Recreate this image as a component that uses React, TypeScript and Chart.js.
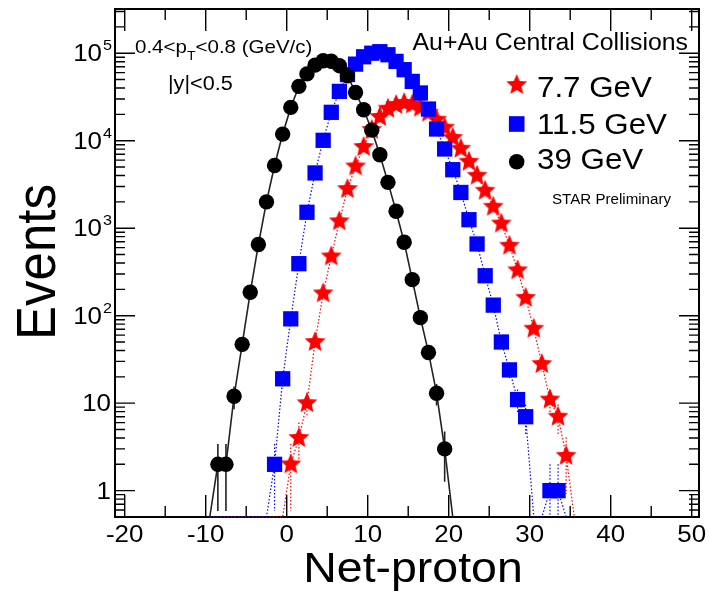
import { useEffect, useRef } from 'react';
import { Chart, registerables } from 'chart.js';

Chart.register(...registerables);

// ---- data (bin centres of the net-proton histogram) ----
const NET_PROTON = [
  -9.5, -8.5, -7.5, -6.5, -5.5, -4.5, -3.5, -2.5, -1.5, -0.5,
  0.5, 1.5, 2.5, 3.5, 4.5, 5.5, 6.5, 7.5, 8.5, 9.5,
  10.5, 11.5, 12.5, 13.5, 14.5, 15.5, 16.5, 17.5, 18.5, 19.5,
  20.5, 21.5, 22.5, 23.5, 24.5, 25.5, 26.5, 27.5, 28.5, 29.5,
  30.5, 31.5, 32.5, 33.5, 34.5, 35.5,
];

// 7.7 GeV (red stars)
const EVENTS_7_7: (number | null)[] = [
  0, 0, 0, 0, 0, 0, 0, 0, 0, 0,
  2, 4, 10, 50, 180, 476, 1200, 2800, 5080, 8470,
  13300, 18700, 23200, 25600, 27000, 26000, 23800, 20900, 17400, 14100,
  10800, 8100, 5750, 3980, 2680, 1760, 1130, 630, 330, 160,
  71, 28, 11, 7, 2.5, 0,
];

// 11.5 GeV (blue squares)
const EVENTS_11_5: (number | null)[] = [
  0, 0, 0, 0, 0, 0, 0, 0, 2, 19,
  92, 393, 1520, 4280, 10100, 21100, 36600, 57000, 75000, 91000,
  100000, 104000, 96000, 80600, 64800, 47600, 35100, 23000, 13600, 8040,
  4660, 2560, 1250, 660, 286, 132, 50, 24, 11, 7,
  0, 0, 1, 1, 0, null,
];

// 39 GeV (black circles)
const EVENTS_39: (number | null)[] = [
  0, 2, 2, 12, 47, 185, 650, 2000, 5200, 11900,
  24000, 41800, 58000, 73000, 82000, 81000, 72000, 55000, 35600, 22600,
  13200, 6900, 3340, 1560, 690, 258, 95, 38, 13, 3,
  0, null, null, null, null, null, null, null, null, null,
  null, null, null, null, null, null,
];

const SERIES_LABELS = ['7.7 GeV', '11.5 GeV', '39 GeV'];
const SERIES_COLORS = ['#ff0000', '#0000ff', '#000000'];

const X_MAJOR_TICKS = [-20, -10, 0, 10, 20, 30, 40, 50];
const X_MINOR_TICKS = [-15, -5, 5, 15, 25, 35, 45];
const X_TICK_LABELS = ['-20', '-10', '0', '10', '20', '30', '40', '50'];
const Y_DECADES = [1, 10, 100, 1000, 10000, 100000];
const Y_TICK_BASES = ['1', '10', '10', '10', '10', '10'];
const Y_TICK_EXPONENTS = ['', '', '2', '3', '4', '5'];

const X_MIN = -21.2;
const X_MAX = 50.9;
const Y_MIN = 0.5;
const Y_MAX = 3.2e5;

const FONT = "'Liberation Sans', Arial, Helvetica, sans-serif";
const SX = 1.08;

function makeStar(R: number, r: number, color: string) {
  const size = Math.ceil(2 * R + 2);
  const c = document.createElement('canvas');
  c.width = size;
  c.height = size;
  const g = c.getContext('2d')!;
  g.fillStyle = color;
  g.beginPath();
  for (let k = 0; k < 10; k++) {
    const rad = k % 2 === 0 ? R : r;
    const a = -Math.PI / 2 + (k * Math.PI) / 5;
    const px = size / 2 + rad * Math.cos(a);
    const py = size / 2 + rad * Math.sin(a);
    if (k === 0) g.moveTo(px, py);
    else g.lineTo(px, py);
  }
  g.closePath();
  g.fill();
  return c;
}

function text(
  ctx: CanvasRenderingContext2D,
  s: string,
  x: number,
  y: number,
  size: number,
  align: CanvasTextAlign = 'left',
) {
  ctx.save();
  ctx.font = `${size}px ${FONT}`;
  ctx.textAlign = align;
  ctx.textBaseline = 'alphabetic';
  ctx.fillStyle = '#000';
  ctx.translate(x, y);
  ctx.scale(SX, 1);
  ctx.fillText(s, 0, 0);
  ctx.restore();
}

function textWidth(ctx: CanvasRenderingContext2D, s: string, size: number) {
  ctx.save();
  ctx.font = `${size}px ${FONT}`;
  const w = ctx.measureText(s).width * SX;
  ctx.restore();
  return w;
}

const framePlugin = {
  id: 'rootFrame',
  beforeDatasetsDraw(chart: any) {
    const { ctx, chartArea: a, scales } = chart;
    const xs = scales.x;
    const ys = scales.y;
    ctx.save();
    ctx.strokeStyle = '#000';
    ctx.lineWidth = 1.4;
    ctx.beginPath();
    const xt = (v: number, len: number) => {
      const p = xs.getPixelForValue(v);
      ctx.moveTo(p, a.bottom);
      ctx.lineTo(p, a.bottom - len);
      ctx.moveTo(p, a.top);
      ctx.lineTo(p, a.top + len);
    };
    X_MAJOR_TICKS.forEach((v) => xt(v, 22));
    X_MINOR_TICKS.forEach((v) => xt(v, 11));
    const yt = (v: number, len: number) => {
      const p = ys.getPixelForValue(v);
      ctx.moveTo(a.left, p);
      ctx.lineTo(a.left + len, p);
      ctx.moveTo(a.right, p);
      ctx.lineTo(a.right - len, p);
    };
    Y_DECADES.forEach((v) => yt(v, 20));
    for (let e = -1; e <= 5; e++) {
      for (let m = 2; m <= 9; m++) {
        const v = m * Math.pow(10, e);
        if (v >= Y_MIN && v <= Y_MAX) yt(v, 10);
      }
    }
    ctx.stroke();
    ctx.lineWidth = 2;
    ctx.strokeRect(a.left, a.top, a.right - a.left, a.bottom - a.top);
    ctx.restore();

    // error bars (Poisson)
    const ds = chart.data.datasets;
    ds.forEach((d: any, i: number) => {
      const meta = chart.getDatasetMeta(i);
      const vals: (number | null)[] = d.rawValues;
      ctx.save();
      ctx.beginPath();
      ctx.rect(a.left, a.top, a.right - a.left, a.bottom - a.top);
      ctx.clip();
      ctx.strokeStyle = d.borderColor;
      ctx.lineWidth = d.borderWidth;
      ctx.setLineDash(d.borderDash || []);
      ctx.beginPath();
      vals.forEach((v, j) => {
        if (v === null || v <= 0) return;
        const el = meta.data[j];
        const e = Math.sqrt(v);
        const top = ys.getPixelForValue(v + e);
        const lo = v - e;
        const bot = lo > Y_MIN ? ys.getPixelForValue(lo) : a.bottom;
        ctx.moveTo(el.x, top);
        ctx.lineTo(el.x, bot);
      });
      ctx.stroke();
      ctx.restore();
    });
  },
};

const labelsPlugin = {
  id: 'rootLabels',
  afterDraw(chart: any) {
    const { ctx, scales } = chart;
    const xs = scales.x;
    const ys = scales.y;

    // x tick labels
    X_MAJOR_TICKS.forEach((v, i) => {
      text(ctx, X_TICK_LABELS[i], xs.getPixelForValue(v), 542, 24, 'center');
    });
    // y tick labels
    Y_DECADES.forEach((v, i) => {
      const p = ys.getPixelForValue(v);
      const exp = Y_TICK_EXPONENTS[i];
      if (exp) {
        text(ctx, exp, 112, p - 3, 15, 'right');
        const ew = textWidth(ctx, exp, 15);
        text(ctx, Y_TICK_BASES[i], 112 - ew - 1, p + 8, 24, 'right');
      } else {
        text(ctx, Y_TICK_BASES[i], 111, p + 8, 24, 'right');
      }
    });

    // axis titles
    text(ctx, 'Net-proton', 413, 582, 43, 'center');
    ctx.save();
    ctx.font = `51px ${FONT}`;
    ctx.fillStyle = '#000';
    ctx.textAlign = 'center';
    ctx.textBaseline = 'alphabetic';
    ctx.translate(55, 262);
    ctx.scale(SX, 1);
    ctx.rotate(-Math.PI / 2);
    ctx.fillText('Events', 0, 0);
    ctx.restore();

    // kinematic cuts
    let x = 135;
    text(ctx, '0.4<p', x, 52.7, 19);
    x += textWidth(ctx, '0.4<p', 19);
    text(ctx, 'T', x, 60, 13);
    x += textWidth(ctx, 'T', 13);
    text(ctx, '<0.8 (GeV/c)', x, 52.7, 19);
    text(ctx, '|y|<0.5', 168, 90, 20);

    // header + legend
    text(ctx, 'Au+Au Central Collisions', 688, 50, 23, 'right');
    const lx = 516.7;
    const ly = [85, 124, 161.7];
    const tb = [97, 133.5, 168.5];
    const star = chart.data.datasets[0].pointStyle as HTMLCanvasElement;
    ctx.save();
    ctx.drawImage(star, lx - star.width / 2, ly[0] - star.height / 2);
    ctx.fillStyle = SERIES_COLORS[1];
    ctx.fillRect(lx - 7.8, ly[1] - 7.8, 15.6, 15.6);
    ctx.fillStyle = SERIES_COLORS[2];
    ctx.beginPath();
    ctx.arc(lx, ly[2], 7.8, 0, Math.PI * 2);
    ctx.fill();
    ctx.restore();
    SERIES_LABELS.forEach((s, i) => text(ctx, s, 537, tb[i], 29));

    text(ctx, 'STAR Preliminary', 552, 204, 14);
  },
};

export default function App() {
  const ref = useRef<HTMLCanvasElement>(null);

  useEffect(() => {
    const canvas = ref.current;
    if (!canvas) return;
    const star = makeStar(11, 5, SERIES_COLORS[0]);
    const toPoints = (vals: (number | null)[]) =>
      NET_PROTON.map((x, i) => {
        const v = vals[i];
        return { x, y: v === null ? null : v === 0 ? Y_MIN : v };
      });
    const radii = (vals: (number | null)[], r: number) =>
      vals.map((v) => (v === null || v === 0 ? 0 : r));

    const datasets: any[] = [
      {
        label: SERIES_LABELS[0],
        data: toPoints(EVENTS_7_7),
        rawValues: EVENTS_7_7,
        borderColor: SERIES_COLORS[0],
        backgroundColor: SERIES_COLORS[0],
        borderWidth: 1.2,
        borderDash: [1.5, 2],
        pointStyle: star,
        pointRadius: radii(EVENTS_7_7, 10),
        pointBorderWidth: 0,
        order: 3,
        clip: 3,
      },
      {
        label: SERIES_LABELS[1],
        data: toPoints(EVENTS_11_5),
        rawValues: EVENTS_11_5,
        borderColor: SERIES_COLORS[1],
        backgroundColor: SERIES_COLORS[1],
        borderWidth: 1.2,
        borderDash: [1.5, 2],
        pointStyle: 'rect',
        pointRadius: radii(EVENTS_11_5, 10.8),
        pointBorderWidth: 0,
        order: 2,
        clip: 3,
      },
      {
        label: SERIES_LABELS[2],
        data: toPoints(EVENTS_39),
        rawValues: EVENTS_39,
        borderColor: '#222222',
        backgroundColor: SERIES_COLORS[2],
        borderWidth: 1.6,
        pointStyle: 'circle',
        pointRadius: radii(EVENTS_39, 7.7),
        pointBorderWidth: 0,
        order: 1,
        clip: 3,
      },
    ];

    const chart = new Chart(canvas, {
      type: 'line',
      data: { datasets },
      options: {
        animation: false,
        responsive: false,
        events: [],
        layout: { padding: { left: 115, right: 10, top: 9, bottom: 80 } },
        elements: { line: { tension: 0 } },
        scales: {
          x: { type: 'linear', min: X_MIN, max: X_MAX, display: false, bounds: 'data' },
          y: { type: 'logarithmic', min: Y_MIN, max: Y_MAX, display: false },
        },
        plugins: {
          legend: { display: false },
          tooltip: { enabled: false },
        },
      },
      plugins: [framePlugin, labelsPlugin],
    } as any);
    return () => chart.destroy();
  }, []);

  return (
    <div style={{ position: 'absolute', left: 0, top: 0, width: 709, height: 597, background: '#fff' }}>
      <canvas ref={ref} width={709} height={597} style={{ display: 'block' }} />
    </div>
  );
}
